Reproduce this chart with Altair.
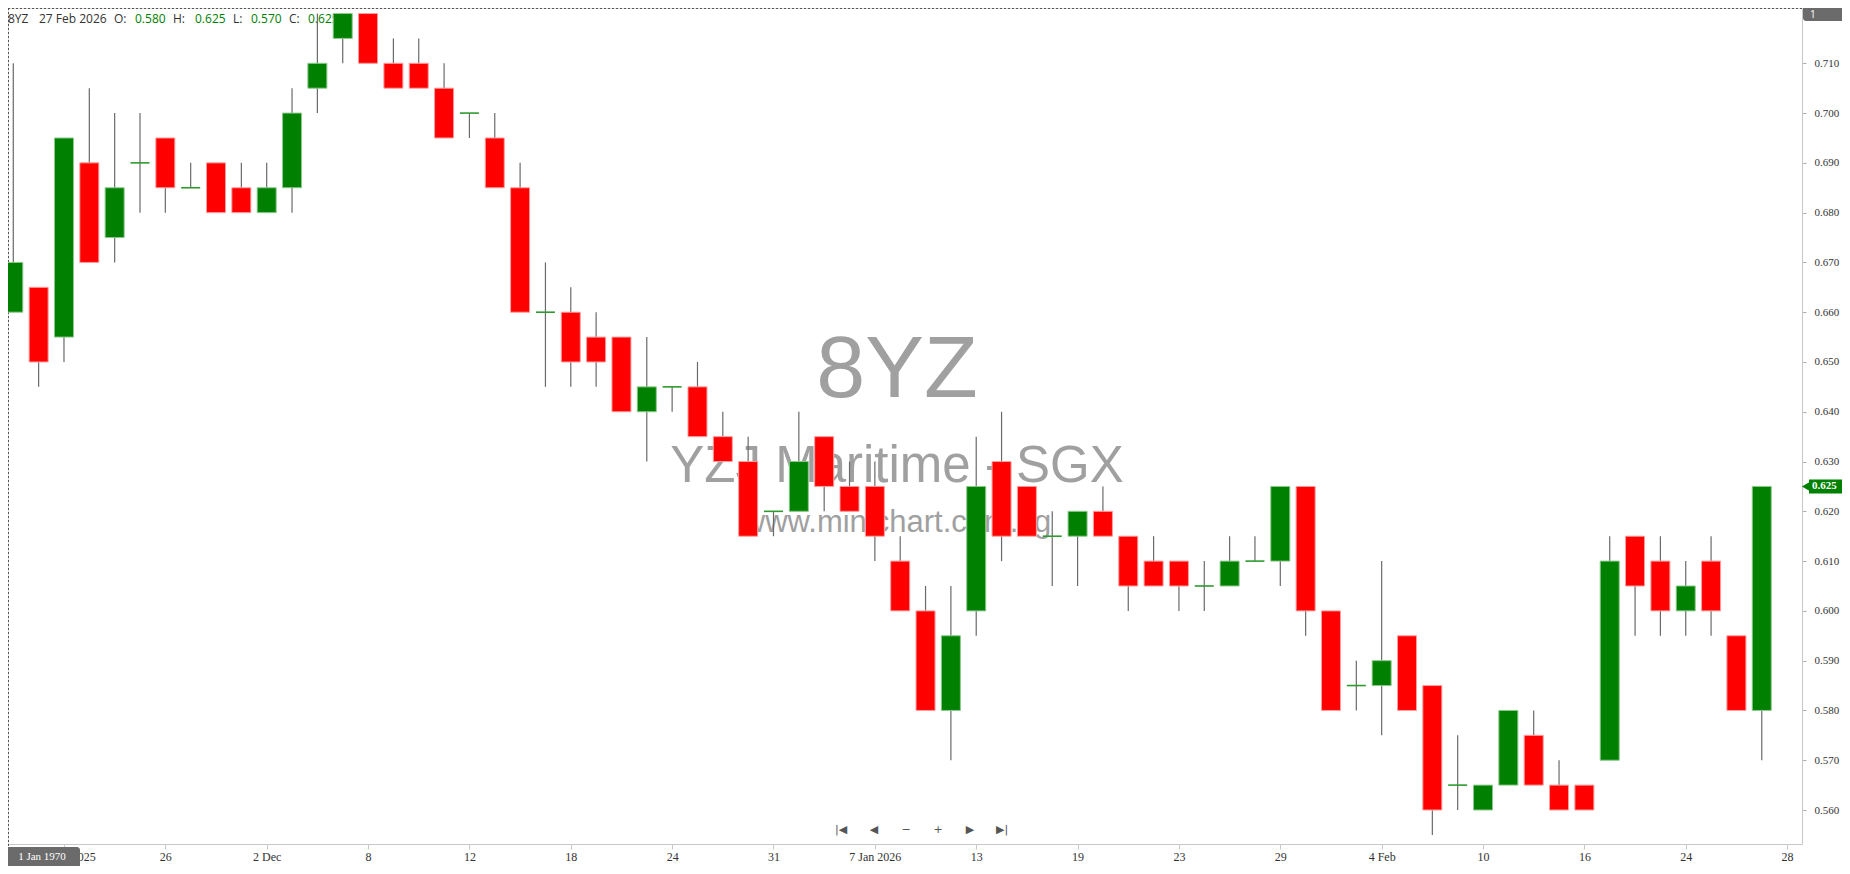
import altair as alt
import pandas as pd

# ---------------- data ----------------
dates = [
    "18 Nov 2025", "19 Nov 2025", "20 Nov 2025", "21 Nov 2025", "24 Nov 2025", "25 Nov 2025",
    "26 Nov 2025", "27 Nov 2025", "28 Nov 2025", "1 Dec 2025", "2 Dec 2025", "3 Dec 2025",
    "4 Dec 2025", "5 Dec 2025", "8 Dec 2025", "9 Dec 2025", "10 Dec 2025", "11 Dec 2025",
    "12 Dec 2025", "15 Dec 2025", "16 Dec 2025", "17 Dec 2025", "18 Dec 2025", "19 Dec 2025",
    "22 Dec 2025", "23 Dec 2025", "24 Dec 2025", "26 Dec 2025", "29 Dec 2025", "30 Dec 2025",
    "31 Dec 2025", "2 Jan 2026", "5 Jan 2026", "6 Jan 2026", "7 Jan 2026", "8 Jan 2026",
    "9 Jan 2026", "12 Jan 2026", "13 Jan 2026", "14 Jan 2026", "15 Jan 2026", "16 Jan 2026",
    "19 Jan 2026", "20 Jan 2026", "21 Jan 2026", "22 Jan 2026", "23 Jan 2026", "26 Jan 2026",
    "27 Jan 2026", "28 Jan 2026", "29 Jan 2026", "30 Jan 2026", "2 Feb 2026", "3 Feb 2026",
    "4 Feb 2026", "5 Feb 2026", "6 Feb 2026", "9 Feb 2026", "10 Feb 2026", "11 Feb 2026",
    "12 Feb 2026", "13 Feb 2026", "16 Feb 2026", "19 Feb 2026", "20 Feb 2026", "23 Feb 2026",
    "24 Feb 2026", "25 Feb 2026", "26 Feb 2026", "27 Feb 2026",
]
opens = [
    0.660, 0.665, 0.655, 0.690, 0.675, 0.690, 0.695, 0.685, 0.690, 0.685, 0.680, 0.685,
    0.705, 0.715, 0.720, 0.710, 0.710, 0.705, 0.700, 0.695, 0.685, 0.660, 0.660, 0.655,
    0.655, 0.640, 0.645, 0.645, 0.635, 0.630, 0.620, 0.620, 0.635, 0.625, 0.625, 0.610,
    0.600, 0.580, 0.600, 0.630, 0.625, 0.615, 0.615, 0.620, 0.615, 0.610, 0.610, 0.605,
    0.605, 0.610, 0.610, 0.625, 0.600, 0.585, 0.585, 0.595, 0.585, 0.565, 0.560, 0.565,
    0.575, 0.565, 0.565, 0.570, 0.615, 0.610, 0.600, 0.610, 0.595, 0.580,
]
highs = [
    0.710, 0.665, 0.695, 0.705, 0.700, 0.700, 0.695, 0.690, 0.690, 0.690, 0.690, 0.705,
    0.720, 0.720, 0.720, 0.715, 0.715, 0.710, 0.700, 0.700, 0.690, 0.670, 0.665, 0.660,
    0.655, 0.655, 0.645, 0.650, 0.640, 0.635, 0.620, 0.640, 0.635, 0.630, 0.630, 0.615,
    0.605, 0.605, 0.635, 0.640, 0.625, 0.620, 0.620, 0.625, 0.615, 0.615, 0.610, 0.610,
    0.615, 0.615, 0.625, 0.625, 0.600, 0.590, 0.610, 0.595, 0.585, 0.575, 0.565, 0.580,
    0.580, 0.570, 0.565, 0.615, 0.615, 0.615, 0.610, 0.615, 0.595, 0.625,
]
lows = [
    0.660, 0.645, 0.650, 0.670, 0.670, 0.680, 0.680, 0.685, 0.680, 0.680, 0.680, 0.680,
    0.700, 0.710, 0.710, 0.705, 0.705, 0.695, 0.695, 0.685, 0.660, 0.645, 0.645, 0.645,
    0.640, 0.630, 0.640, 0.635, 0.630, 0.615, 0.615, 0.620, 0.620, 0.620, 0.610, 0.600,
    0.580, 0.570, 0.595, 0.610, 0.615, 0.605, 0.605, 0.615, 0.600, 0.605, 0.600, 0.600,
    0.605, 0.610, 0.605, 0.595, 0.580, 0.580, 0.575, 0.580, 0.555, 0.560, 0.560, 0.565,
    0.565, 0.560, 0.560, 0.570, 0.595, 0.595, 0.595, 0.595, 0.580, 0.570,
]
closes = [
    0.670, 0.650, 0.695, 0.670, 0.685, 0.690, 0.685, 0.685, 0.680, 0.680, 0.685, 0.700,
    0.710, 0.720, 0.710, 0.705, 0.705, 0.695, 0.700, 0.685, 0.660, 0.660, 0.650, 0.650,
    0.640, 0.645, 0.645, 0.635, 0.630, 0.615, 0.620, 0.630, 0.625, 0.620, 0.615, 0.600,
    0.580, 0.595, 0.625, 0.615, 0.615, 0.615, 0.620, 0.615, 0.605, 0.605, 0.605, 0.605,
    0.610, 0.610, 0.625, 0.600, 0.580, 0.585, 0.590, 0.580, 0.560, 0.565, 0.565, 0.580,
    0.565, 0.560, 0.560, 0.610, 0.605, 0.600, 0.605, 0.600, 0.580, 0.625,
]

x_tick_index = [2, 6, 10, 14, 18, 22, 26, 30, 34, 38, 42, 46, 50, 54, 58, 62, 66, 70]
x_tick_labels = ["20 Nov 2025", "26", "2 Dec", "8", "12", "18", "24", "31", "7 Jan 2026",
                 "13", "19", "23", "29", "4 Feb", "10", "16", "24", "28"]
y_ticks = [0.56, 0.57, 0.58, 0.59, 0.60, 0.61, 0.62, 0.63, 0.64, 0.65, 0.66, 0.67, 0.68, 0.69, 0.70, 0.71]

symbol = "8YZ"
company = "YZJ Maritime - SGX"
site = "www.minichart.com.sg"
last_date = "27 Feb 2026"
last_open, last_high, last_low, last_close = 0.580, 0.625, 0.570, 0.625
nav_glyphs = ["|◀", "◀", "−", "+", "▶", "▶|"]
corner_date = "1 Jan 1970"
panel_no = "1"

# ---------------- layout ----------------
W, H = 1794, 836
GREEN, RED = "#008000", "#ff0000"
WICK = "#6a6a6a"
WM = "#a0a0a0"

df = pd.DataFrame({"i": list(range(len(dates))), "date": dates, "open": opens,
                   "high": highs, "low": lows, "close": closes})

xs = alt.Scale(domain=[-0.209, 70.588], nice=False, zero=False)
ys = alt.Scale(domain=[0.55317, 0.72111], nice=False, zero=False)

label_arr = "[" + ",".join(f"'{t}'" for t in x_tick_labels) + "]"
idx_arr = "[" + ",".join(str(v) for v in x_tick_index) + "]"

x_axis = alt.Axis(values=x_tick_index, labelExpr=f"{label_arr}[indexof({idx_arr}, datum.value)]",
                  title=None, grid=False, domainColor="#c8c8c8", tickColor="#c8c8c8",
                  tickSize=5, labelPadding=2, labelFont="Liberation Serif", labelFontSize=12,
                  labelColor="#333333", labelFlush=False, labelOverlap=False)
y_axis = alt.Axis(orient="right", values=y_ticks, format=".3f", title=None, grid=False,
                  domainColor="#c8c8c8", tickColor="#b0b0b0", tickSize=4, labelPadding=8,
                  labelFont="Liberation Serif", labelFontSize=11, labelColor="#333333")


def one(**kw):
    return pd.DataFrame({k: [v] for k, v in kw.items()})


def text(t, x, y, size, color, font="Open Sans", weight="normal", align="left",
         baseline="middle"):
    return alt.Chart(one(t=t)).mark_text(
        align=align, baseline=baseline, font=font, fontSize=size, color=color,
        fontWeight=weight).encode(x=alt.value(x), y=alt.value(y), text="t:N")


layers = []

# dashed border (top and left)
layers.append(alt.Chart(one(a=1)).mark_rule(color="#555555", strokeDash=[2, 2], strokeWidth=1)
              .encode(x=alt.value(0), x2=alt.value(W), y=alt.value(0.5)))
layers.append(alt.Chart(one(a=1)).mark_rule(color="#555555", strokeDash=[2, 2], strokeWidth=1)
              .encode(x=alt.value(0.5), y=alt.value(0), y2=alt.value(H + 4)))

# watermark
layers.append(text(symbol, 889, 389, 88, WM, font="Liberation Sans", align="center",
                   baseline="alphabetic"))
layers.append(text(company, 889, 474, 51, WM, font="Liberation Sans", align="center",
                   baseline="alphabetic"))
layers.append(text(site, 889, 524, 31, WM, font="Liberation Sans", align="center",
                   baseline="alphabetic"))

# header
hdr_y = 10.5
layers.append(text(symbol, 0, hdr_y, 12, "#333333"))
layers.append(text(last_date, 31, hdr_y, 12, "#333333"))
for lab, val, xl, xv in [("O:", last_open, 106, 127), ("H:", last_high, 165, 187),
                         ("L:", last_low, 225, 243), ("C:", last_close, 281, 300)]:
    layers.append(text(lab, xl, hdr_y, 12, "#333333"))
    layers.append(text(f"{val:.3f}", xv, hdr_y, 12, GREEN))

# wicks
layers.append(alt.Chart(df).mark_rule(color=WICK, strokeWidth=1.2).encode(
    x=alt.X("i:Q", scale=xs, axis=x_axis),
    y=alt.Y("low:Q", scale=ys, axis=y_axis),
    y2="high:Q"))

# bodies
layers.append(alt.Chart(df).transform_filter("datum.close != datum.open")
              .transform_calculate(x0="datum.i - 0.375", x1="datum.i + 0.375")
              .mark_rect(strokeWidth=1)
              .encode(x=alt.X("x0:Q", scale=xs, axis=x_axis), x2="x1:Q",
                      y=alt.Y("open:Q", scale=ys, axis=y_axis), y2="close:Q",
                      fill=alt.condition("datum.close > datum.open", alt.value(GREEN), alt.value(RED)),
                      stroke=alt.condition("datum.close > datum.open", alt.value("#8cc88c"),
                                           alt.value("#ff9c9c"))))

# doji
layers.append(alt.Chart(df).transform_filter("datum.close == datum.open")
              .transform_calculate(x0="datum.i - 0.375", x1="datum.i + 0.375")
              .mark_rule(color="#2f9a2f", strokeWidth=1.6)
              .encode(x=alt.X("x0:Q", scale=xs, axis=x_axis), x2="x1:Q",
                      y=alt.Y("open:Q", scale=ys, axis=y_axis)))

# last price tag
tag = alt.Chart(one(p=last_close))
layers.append(tag.mark_rect(color=GREEN, yOffset=-7, y2Offset=7).encode(
    x=alt.value(W + 7), x2=alt.value(W + 48), y=alt.Y("p:Q", scale=ys, axis=y_axis), y2="p:Q"))
layers.append(tag.mark_point(shape="triangle-left", filled=True, size=90, color=GREEN,
                             opacity=1).encode(
    x=alt.value(W + 4), y=alt.Y("p:Q", scale=ys, axis=y_axis)))
layers.append(tag.mark_text(align="left", baseline="middle", font="Liberation Serif",
                            fontSize=11, fontWeight="bold", color="white").encode(
    x=alt.value(W + 10), y=alt.Y("p:Q", scale=ys, axis=y_axis), text=alt.Text("p:Q", format=".3f")))

# panel badge top right
layers.append(alt.Chart(one(a=1)).mark_rect(color="#6b6b6b", cornerRadius=3).encode(
    x=alt.value(W + 1), x2=alt.value(W + 48), y=alt.value(-4), y2=alt.value(13)))
layers.append(text(panel_no, W + 8, 6.5, 10, "white", font="Open Sans"))

# corner date badge (drawn over the first date label, as in the original)
layers.append(alt.Chart(one(a=1)).mark_rect(color="#6b6b6b", cornerRadius=3).encode(
    x=alt.value(-4), x2=alt.value(72), y=alt.value(H + 3), y2=alt.value(H + 30)))
layers.append(text(corner_date, 34, H + 13, 11, "white", font="Liberation Serif", align="center"))

# navigation glyphs
for g, gx in zip(nav_glyphs, [833, 866, 898, 930, 962, 994]):
    layers.append(text(g, gx, 822, 11, "#555555", font="DejaVu Sans", align="center"))

chart = alt.layer(*layers).properties(
    width=W, height=H,
    autosize=alt.AutoSizeParams(type="none"),
    padding={"left": 0, "top": 0, "right": 40, "bottom": 22},
).configure_view(strokeWidth=0).configure(background="white")

chart.save("out.html", embed_options={"renderer": "svg", "actions": False})
